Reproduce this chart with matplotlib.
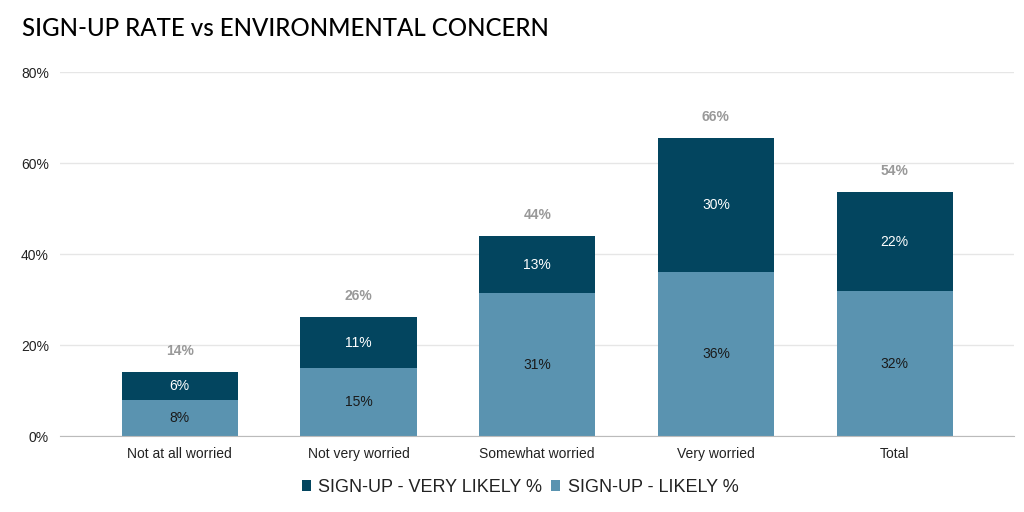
import matplotlib.pyplot as plt
import numpy as np

plt.rcParams['font.family'] = ['Liberation Sans', 'DejaVu Sans']

categories = ['Not at all worried', 'Not very worried', 'Somewhat worried', 'Very worried', 'Total']
likely = [7.9, 14.9, 31.4, 36.0, 31.9]
very_likely = [6.2, 11.3, 12.6, 29.6, 21.7]
yticks = [0, 20, 40, 60, 80]

dark = '#03455f'
light = '#5a93b0'

fig = plt.figure(figsize=(10.24, 5.12), dpi=100)
ax = fig.add_axes([0.0586, 0.148, 0.932, 0.711])

x = np.arange(len(categories))
w = 0.65
ax.bar(x, likely, w, color=light, zorder=3, label='SIGN-UP - LIKELY %')
ax.bar(x, very_likely, w, bottom=likely, color=dark, zorder=3, label='SIGN-UP - VERY LIKELY %')

totals = [a + b for a, b in zip(likely, very_likely)]
for i in range(len(x)):
    ax.text(x[i], likely[i] / 2, '%d%%' % round(likely[i]), ha='center', va='center',
            fontsize=10, color='#1a1a1a', zorder=4)
    ax.text(x[i], likely[i] + very_likely[i] / 2, '%d%%' % round(very_likely[i]),
            ha='center', va='center', fontsize=10, color='white', zorder=4)
    ax.text(x[i], totals[i] + 4.6, '%d%%' % round(totals[i]), ha='center', va='center',
            fontsize=10, color='#999999', fontweight='bold', zorder=4)

ax.set_xlim(-0.67, 4.67)
ax.set_ylim(0, 80)
ax.set_yticks(yticks)
ax.set_yticklabels(['%d%%' % v for v in yticks], fontsize=10, color='#222222')
ax.set_xticks(x)
ax.set_xticklabels(categories, fontsize=10, color='#222222')
ax.tick_params(axis='both', length=0, pad=8)
ax.grid(axis='y', color='#e6e6e6', linewidth=1, zorder=0)
for s in ['top', 'right', 'left']:
    ax.spines[s].set_visible(False)
ax.spines['bottom'].set_color('#bbbbbb')
ax.spines['bottom'].set_zorder(5)

h, l = ax.get_legend_handles_labels()
fig.legend(h[::-1], l[::-1], loc='center', bbox_to_anchor=(0.508, 0.048), ncol=2, frameon=False,
           fontsize=13, handlelength=0.5, handleheight=0.5, handletextpad=0.4, columnspacing=0.5,
           labelcolor='#222222')

fig.text(0.021, 0.945, 'SIGN-UP RATE vs ENVIRONMENTAL CONCERN', fontsize=17.3,
         family=['Lato', 'DejaVu Sans'], fontweight='medium', color='black', va='center')

plt.savefig('out.png', dpi=100)
